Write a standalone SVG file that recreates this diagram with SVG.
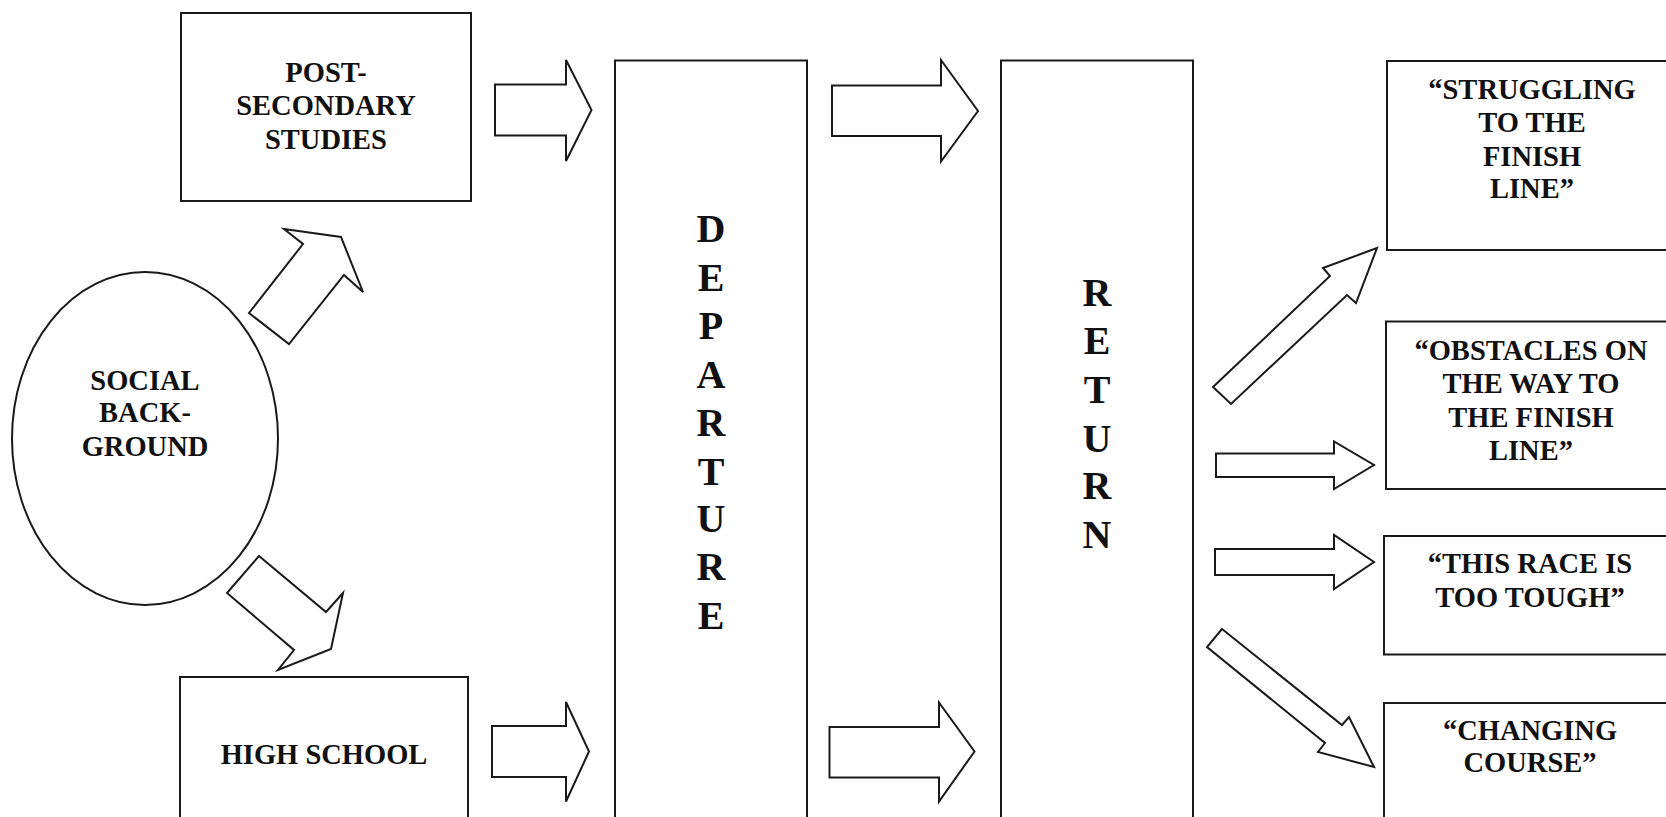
<svg xmlns="http://www.w3.org/2000/svg" width="1666" height="817" viewBox="0 0 1666 817">
<style>
.box{fill:#fff;stroke:#1a1a1a;stroke-width:2}
.arr{fill:#fff;stroke:#1a1a1a;stroke-width:2;stroke-linejoin:miter}
.t{font-family:"Liberation Serif","Times New Roman",serif;font-weight:bold;font-size:28.5px;fill:#111;text-anchor:middle}
.v{font-family:"Liberation Serif","Times New Roman",serif;font-weight:bold;font-size:40px;fill:#111;text-anchor:middle}
</style>
<rect width="1666" height="817" fill="#fff"/>
<g id="post-secondary">
<rect class="box" x="181" y="13" width="290" height="188"/>
<text class="t" x="326" y="82">POST-</text>
<text class="t" x="326" y="115">SECONDARY</text>
<text class="t" x="326" y="149">STUDIES</text>
</g>
<g id="social-background">
<ellipse class="box" cx="145" cy="438.5" rx="133" ry="166.5"/>
<text class="t" x="145" y="390">SOCIAL</text>
<text class="t" x="145" y="422">BACK-</text>
<text class="t" x="145" y="456">GROUND</text>
</g>
<g id="high-school">
<rect class="box" x="180" y="677" width="288" height="160"/>
<text class="t" x="324" y="764">HIGH SCHOOL</text>
</g>
<g id="departure">
<rect class="box" x="615" y="60.5" width="192" height="780"/>
<text class="v" x="711" y="242">D</text>
<text class="v" x="711" y="291">E</text>
<text class="v" x="711" y="339">P</text>
<text class="v" x="711" y="388">A</text>
<text class="v" x="711" y="436">R</text>
<text class="v" x="711" y="485">T</text>
<text class="v" x="711" y="532">U</text>
<text class="v" x="711" y="580">R</text>
<text class="v" x="711" y="629">E</text>
</g>
<g id="return">
<rect class="box" x="1001" y="60.5" width="192" height="780"/>
<text class="v" x="1097" y="306">R</text>
<text class="v" x="1097" y="354">E</text>
<text class="v" x="1097" y="403">T</text>
<text class="v" x="1097" y="452">U</text>
<text class="v" x="1097" y="499">R</text>
<text class="v" x="1097" y="548">N</text>
</g>
<g id="struggling">
<rect class="box" x="1387" y="61" width="300" height="189"/>
<text class="t" x="1532" y="99">“STRUGGLING</text>
<text class="t" x="1532" y="132">TO THE</text>
<text class="t" x="1532" y="166">FINISH</text>
<text class="t" x="1532" y="198">LINE”</text>
</g>
<g id="obstacles">
<rect class="box" x="1386" y="321.5" width="300" height="167.5"/>
<text class="t" x="1531" y="360">“OBSTACLES ON</text>
<text class="t" x="1531" y="393">THE WAY TO</text>
<text class="t" x="1531" y="427">THE FINISH</text>
<text class="t" x="1531" y="460">LINE”</text>
</g>
<g id="this-race">
<rect class="box" x="1384" y="536" width="300" height="118.5"/>
<text class="t" x="1530" y="573">“THIS RACE IS</text>
<text class="t" x="1530" y="607">TOO TOUGH”</text>
</g>
<g id="changing-course">
<rect class="box" x="1384" y="703" width="300" height="140"/>
<text class="t" x="1530" y="740">“CHANGING</text>
<text class="t" x="1530" y="772">COURSE”</text>
</g>
<g id="connectors">
<polygon class="arr" points="249,313 289,344 344,275 363,292 341,237 284,229 303,244"/>
<polygon class="arr" points="259,556 326,612 343,593 331,649 278,670 294,650 227,593"/>
<polygon class="arr" points="495,84.5 566,84.5 566,60 591.5,110 566,161 566,135.5 495,135.5"/>
<polygon class="arr" points="492,726 566,726 566,702 589,751.5 566,801.5 566,777 492,777"/>
<polygon class="arr" points="832,85.5 941,85.5 941,60 978,111 941,161.5 941,136 832,136"/>
<polygon class="arr" points="829.5,727 939,727 939,702.5 974.5,751.5 939,801.5 939,777.5 829.5,777.5"/>
<polygon class="arr" points="1213,387 1330,276 1323,268 1377,248 1356,303 1347,295 1231,404"/>
<polygon class="arr" points="1216,453.5 1334,453.5 1334,441.5 1374,465 1334,489 1334,477 1216,477"/>
<polygon class="arr" points="1215,549 1334,549 1334,535 1374,562 1334,589 1334,575 1215,575"/>
<polygon class="arr" points="1222,629 1342,725 1349,717 1374,767 1318,752 1325,743 1207,647"/>
</g>
</svg>
